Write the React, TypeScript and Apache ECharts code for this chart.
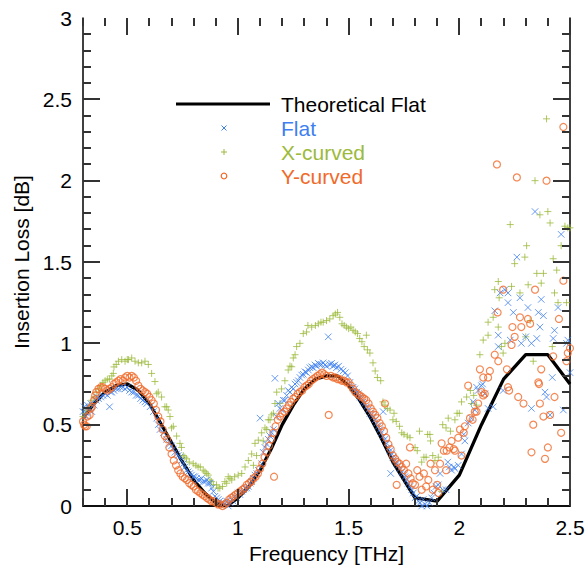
import React, { useEffect, useRef } from "react";
import * as echarts from "echarts";

const FONT = "'Liberation Sans', Arial, Helvetica, sans-serif";
const BLUE = "#3f7ff0";
const GREEN = "#9cba3c";
const ORANGE = "#f06a2a";
const TICK = "#333333";

const X_MIN = 0.3;
const X_MAX = 2.5;
const Y_MIN = 0;
const Y_MAX = 3;

const xMajorTicks = [0.5, 1, 1.5, 2, 2.5];
const xMinorTicks = [0.3, 0.4, 0.6, 0.7, 0.8, 0.9, 1.1, 1.2, 1.3, 1.4, 1.6, 1.7, 1.8, 1.9, 2.1, 2.2, 2.3, 2.4];
const yMajorTicks = [0.5, 1, 1.5, 2, 2.5];
const yMinorTicks = [
  0.1, 0.2, 0.3, 0.4, 0.6, 0.7, 0.8, 0.9, 1.1, 1.2, 1.3, 1.4, 1.6, 1.7, 1.8, 1.9,
  2.1, 2.2, 2.3, 2.4, 2.6, 2.7, 2.8, 2.9,
];

const theoreticalFlat = [
  [0.3, 0.54], [0.35, 0.63], [0.4, 0.7], [0.45, 0.74], [0.5, 0.75], [0.55, 0.71], [0.6, 0.63], [0.65, 0.51],
  [0.7, 0.39], [0.75, 0.27], [0.8, 0.16], [0.85, 0.08], [0.9, 0.02], [0.95, 0.0], [1.0, 0.05], [1.05, 0.12],
  [1.1, 0.22], [1.15, 0.35], [1.2, 0.5], [1.25, 0.62], [1.3, 0.72], [1.35, 0.78], [1.4, 0.8], [1.45, 0.8],
  [1.5, 0.74], [1.55, 0.65], [1.6, 0.54], [1.65, 0.41], [1.7, 0.27], [1.8, 0.05], [1.9, 0.03], [2.0, 0.19],
  [2.1, 0.5], [2.2, 0.78], [2.3, 0.93], [2.4, 0.93], [2.5, 0.75],
];

const flat = [
  [0.3, 0.58], [0.305, 0.61], [0.31, 0.55], [0.317, 0.57], [0.32, 0.62], [0.33, 0.6], [0.335, 0.63], [0.34, 0.58],
  [0.35, 0.62], [0.36, 0.65], [0.365, 0.67], [0.37, 0.66], [0.38, 0.67], [0.39, 0.68], [0.4, 0.69], [0.41, 0.68],
  [0.42, 0.61], [0.425, 0.7], [0.43, 0.7], [0.44, 0.71], [0.45, 0.72], [0.46, 0.72], [0.47, 0.73], [0.48, 0.73],
  [0.49, 0.72], [0.5, 0.73], [0.51, 0.71], [0.52, 0.7], [0.53, 0.7], [0.54, 0.68], [0.55, 0.68], [0.56, 0.66],
  [0.57, 0.65], [0.58, 0.64], [0.588, 0.63], [0.603, 0.61], [0.618, 0.58], [0.633, 0.54], [0.64, 0.5], [0.648, 0.47],
  [0.663, 0.45], [0.678, 0.41], [0.69, 0.38], [0.7, 0.37], [0.708, 0.35], [0.715, 0.33], [0.723, 0.32], [0.73, 0.31],
  [0.738, 0.3], [0.745, 0.28], [0.753, 0.26], [0.76, 0.24], [0.768, 0.22], [0.775, 0.21], [0.783, 0.2], [0.79, 0.19],
  [0.798, 0.18], [0.805, 0.18], [0.813, 0.17], [0.82, 0.16], [0.828, 0.16], [0.835, 0.17], [0.843, 0.15], [0.851, 0.15],
  [0.859, 0.16], [0.866, 0.14], [0.874, 0.14], [0.881, 0.11], [0.889, 0.09], [0.896, 0.06], [0.904, 0.05], [0.911, 0.04],
  [0.918, 0.03], [0.926, 0.02], [0.934, 0.02], [0.941, 0.01], [0.949, 0.03], [0.956, 0.0], [0.964, 0.02], [0.972, 0.04],
  [0.978, 0.03], [0.985, 0.06], [0.993, 0.05], [1.001, 0.08], [1.009, 0.07], [1.017, 0.09], [1.025, 0.1], [1.032, 0.11],
  [1.04, 0.11], [1.047, 0.12], [1.055, 0.14], [1.062, 0.15], [1.07, 0.17], [1.077, 0.19], [1.085, 0.2], [1.092, 0.22],
  [1.1, 0.54], [1.107, 0.26], [1.114, 0.33], [1.122, 0.36], [1.13, 0.38], [1.137, 0.41], [1.145, 0.43], [1.152, 0.45],
  [1.16, 0.47], [1.167, 0.785], [1.175, 0.55], [1.182, 0.63], [1.19, 0.6], [1.197, 0.59], [1.205, 0.65], [1.212, 0.65],
  [1.22, 0.68], [1.227, 0.71], [1.235, 0.7], [1.243, 0.73], [1.25, 0.72], [1.258, 0.75], [1.265, 0.76], [1.273, 0.77],
  [1.28, 0.79], [1.288, 0.805], [1.295, 0.81], [1.303, 0.825], [1.31, 0.82], [1.318, 0.836], [1.325, 0.85], [1.333, 0.856],
  [1.34, 0.85], [1.348, 0.867], [1.355, 0.86], [1.363, 0.877], [1.37, 0.87], [1.378, 0.87], [1.385, 0.88], [1.393, 0.867],
  [1.4, 0.86], [1.408, 1.04], [1.415, 0.87], [1.423, 0.877], [1.43, 0.86], [1.438, 0.867], [1.445, 0.85], [1.455, 0.86],
  [1.465, 0.84], [1.475, 0.83], [1.485, 0.82], [1.495, 0.8], [1.506, 0.76], [1.52, 0.73], [1.528, 0.72], [1.536, 0.7],
  [1.544, 0.69], [1.551, 0.67], [1.558, 0.66], [1.566, 0.64], [1.573, 0.63], [1.581, 0.61], [1.588, 0.59], [1.596, 0.57],
  [1.603, 0.56], [1.611, 0.55], [1.62, 0.53], [1.627, 0.51], [1.634, 0.49], [1.641, 0.47], [1.648, 0.45], [1.656, 0.43],
  [1.656, 0.58], [1.664, 0.41], [1.672, 0.385], [1.68, 0.36], [1.687, 0.34], [1.69, 0.2], [1.695, 0.32], [1.7, 0.3],
  [1.71, 0.28], [1.717, 0.26], [1.725, 0.25], [1.732, 0.23], [1.74, 0.21], [1.747, 0.2], [1.754, 0.18], [1.762, 0.16],
  [1.769, 0.14], [1.777, 0.12], [1.785, 0.1], [1.792, 0.08], [1.8, 0.05], [1.807, 0.06], [1.815, 0.03], [1.822, 0.02],
  [1.83, 0.0], [1.837, 0.04], [1.845, 0.01], [1.855, 0.0], [1.865, 0.02], [1.875, 0.05], [1.885, 0.08], [1.895, 0.12],
  [1.905, 0.13], [1.913, 0.2], [1.925, 0.1], [1.94, 0.1], [1.948, 0.27], [1.955, 0.24], [1.965, 0.22], [1.975, 0.24],
  [1.98, 0.23], [1.995, 0.25], [2.01, 0.32], [2.02, 0.44], [2.025, 0.4], [2.04, 0.51], [2.055, 0.54], [2.063, 0.64],
  [2.07, 0.59], [2.078, 0.73], [2.085, 0.71], [2.1, 0.74], [2.105, 0.75], [2.115, 0.69], [2.13, 0.6], [2.153, 0.61],
  [2.16, 1.2], [2.176, 1.05], [2.176, 0.98], [2.184, 1.31], [2.198, 0.71], [2.206, 1.33], [2.22, 1.31], [2.22, 1.25],
  [2.23, 1.02], [2.244, 1.19], [2.26, 1.53], [2.274, 1.28], [2.28, 1.0], [2.3, 1.04], [2.31, 1.22], [2.326, 1.0],
  [2.326, 0.6], [2.342, 1.81], [2.35, 1.03], [2.357, 1.19], [2.364, 1.1], [2.37, 1.27], [2.38, 1.17], [2.387, 0.7],
  [2.394, 0.67], [2.41, 0.56], [2.42, 0.79], [2.424, 1.03], [2.43, 1.08], [2.446, 1.22], [2.46, 1.67], [2.47, 0.59],
  [2.484, 1.0], [2.49, 1.02], [2.5, 0.82],
];

const xCurved = [
  [0.3, 0.55], [0.31, 0.57], [0.317, 0.59], [0.33, 0.62], [0.34, 0.65], [0.35, 0.67], [0.36, 0.7], [0.37, 0.72],
  [0.38, 0.74], [0.39, 0.76], [0.4, 0.77], [0.41, 0.78], [0.42, 0.78], [0.43, 0.8], [0.437, 0.815], [0.44, 0.855],
  [0.45, 0.87], [0.46, 0.89], [0.475, 0.9], [0.49, 0.89], [0.5, 0.9], [0.505, 0.9], [0.52, 0.91], [0.535, 0.89],
  [0.55, 0.88], [0.565, 0.88], [0.58, 0.89], [0.595, 0.87], [0.61, 0.815], [0.625, 0.765], [0.633, 0.69], [0.64, 0.7],
  [0.655, 0.67], [0.67, 0.61], [0.678, 0.61], [0.685, 0.59], [0.693, 0.55], [0.7, 0.48], [0.708, 0.49], [0.723, 0.43],
  [0.738, 0.385], [0.745, 0.36], [0.753, 0.31], [0.76, 0.3], [0.768, 0.29], [0.78, 0.27], [0.798, 0.26], [0.81, 0.25],
  [0.82, 0.24], [0.83, 0.24], [0.843, 0.22], [0.851, 0.21], [0.859, 0.2], [0.866, 0.19], [0.874, 0.16], [0.881, 0.15],
  [0.889, 0.13], [0.903, 0.13], [0.91, 0.11], [0.918, 0.11], [0.93, 0.12], [0.941, 0.15], [0.949, 0.14], [0.956, 0.18],
  [0.964, 0.17], [0.972, 0.16], [0.985, 0.18], [1.001, 0.19], [1.017, 0.2], [1.032, 0.24], [1.047, 0.28], [1.062, 0.32],
  [1.07, 0.25], [1.077, 0.385], [1.084, 0.31], [1.092, 0.405], [1.107, 0.45], [1.114, 0.4], [1.122, 0.48], [1.13, 0.47],
  [1.137, 0.53], [1.145, 0.53], [1.152, 0.56], [1.16, 0.57], [1.167, 0.63], [1.175, 0.7], [1.19, 0.63], [1.197, 0.72],
  [1.212, 0.77], [1.227, 0.836], [1.235, 0.86], [1.243, 0.856], [1.25, 0.91], [1.258, 0.93], [1.265, 0.98], [1.28, 1.0],
  [1.295, 1.06], [1.31, 1.07], [1.316, 1.11], [1.333, 1.1], [1.35, 1.11], [1.363, 1.12], [1.375, 1.13], [1.385, 1.13],
  [1.4, 1.14], [1.415, 1.15], [1.43, 1.17], [1.44, 1.18], [1.45, 1.19], [1.46, 1.16], [1.47, 1.12], [1.48, 1.11],
  [1.49, 1.1], [1.5, 1.09], [1.51, 1.1], [1.52, 1.08], [1.53, 1.07], [1.54, 1.06], [1.55, 1.03], [1.56, 1.01],
  [1.57, 0.98], [1.58, 1.05], [1.585, 0.96], [1.596, 0.94], [1.61, 0.88], [1.62, 0.83], [1.63, 0.79], [1.645, 0.77],
  [1.655, 0.64], [1.664, 0.62], [1.675, 0.6], [1.687, 0.59], [1.7, 0.53], [1.705, 0.57], [1.715, 0.52], [1.73, 0.49],
  [1.74, 0.45], [1.75, 0.44], [1.765, 0.43], [1.777, 0.42], [1.8, 0.36], [1.81, 0.34], [1.82, 0.46], [1.83, 0.27],
  [1.84, 0.3], [1.85, 0.3], [1.857, 0.44], [1.867, 0.44], [1.87, 0.4], [1.88, 0.31], [1.89, 0.28], [1.905, 0.3],
  [1.92, 0.09], [1.925, 0.5], [1.94, 0.48], [1.95, 0.54], [1.96, 0.46], [1.98, 0.53], [1.99, 0.57], [2.0, 0.57],
  [2.01, 0.64], [2.033, 0.67], [2.05, 0.71], [2.055, 0.63], [2.065, 0.68], [2.078, 0.62], [2.093, 0.93], [2.108, 1.02],
  [2.13, 1.13], [2.13, 1.05], [2.153, 1.16], [2.16, 1.33], [2.176, 1.38], [2.176, 1.1], [2.18, 1.28], [2.19, 0.98],
  [2.198, 0.94], [2.206, 1.0], [2.23, 1.73], [2.236, 1.35], [2.25, 1.49], [2.274, 1.31], [2.296, 1.53], [2.304, 1.6],
  [2.311, 1.36], [2.3, 1.04], [2.32, 1.14], [2.334, 0.89], [2.342, 2.0], [2.35, 1.43], [2.364, 1.79], [2.37, 1.37],
  [2.38, 1.43], [2.394, 2.38], [2.4, 1.81], [2.41, 1.74], [2.42, 0.98], [2.424, 1.52], [2.43, 1.31], [2.44, 1.45],
  [2.446, 1.25], [2.46, 1.6], [2.477, 1.72], [2.484, 1.25], [2.49, 1.71], [2.5, 1.71],
];

const yCurved = [
  [0.3, 0.52], [0.305, 0.5], [0.31, 0.49], [0.317, 0.49], [0.32, 0.55], [0.33, 0.56], [0.335, 0.6], [0.34, 0.61],
  [0.35, 0.65], [0.355, 0.68], [0.36, 0.7], [0.37, 0.72], [0.38, 0.73], [0.39, 0.73], [0.4, 0.72], [0.41, 0.71],
  [0.42, 0.72], [0.43, 0.73], [0.44, 0.75], [0.45, 0.76], [0.46, 0.77], [0.47, 0.78], [0.48, 0.77], [0.49, 0.79],
  [0.5, 0.8], [0.51, 0.79], [0.52, 0.8], [0.53, 0.79], [0.54, 0.77], [0.55, 0.74], [0.56, 0.72], [0.57, 0.71],
  [0.58, 0.7], [0.59, 0.69], [0.6, 0.67], [0.61, 0.65], [0.62, 0.63], [0.63, 0.59], [0.64, 0.55], [0.65, 0.52],
  [0.66, 0.47], [0.67, 0.43], [0.68, 0.41], [0.69, 0.36], [0.7, 0.32], [0.71, 0.28], [0.72, 0.25], [0.73, 0.22],
  [0.74, 0.2], [0.75, 0.18], [0.76, 0.17], [0.77, 0.16], [0.78, 0.14], [0.79, 0.13], [0.8, 0.12], [0.81, 0.1],
  [0.82, 0.09], [0.83, 0.08], [0.84, 0.07], [0.85, 0.06], [0.86, 0.05], [0.87, 0.04], [0.88, 0.03], [0.89, 0.03],
  [0.9, 0.02], [0.91, 0.01], [0.92, 0.01], [0.93, 0.0], [0.94, 0.01], [0.95, 0.02], [0.96, 0.04], [0.97, 0.05],
  [0.98, 0.06], [0.99, 0.07], [1.0, 0.08], [1.01, 0.09], [1.02, 0.1], [1.03, 0.11], [1.04, 0.13], [1.05, 0.14],
  [1.06, 0.15], [1.07, 0.17], [1.08, 0.18], [1.09, 0.2], [1.1, 0.23], [1.11, 0.26], [1.12, 0.3], [1.13, 0.33],
  [1.14, 0.37], [1.15, 0.41], [1.16, 0.45], [1.163, 0.18], [1.17, 0.49], [1.18, 0.53], [1.19, 0.55], [1.2, 0.57],
  [1.21, 0.58], [1.22, 0.6], [1.23, 0.62], [1.24, 0.64], [1.25, 0.66], [1.26, 0.67], [1.27, 0.69], [1.28, 0.7],
  [1.29, 0.71], [1.3, 0.73], [1.31, 0.74], [1.32, 0.75], [1.33, 0.77], [1.34, 0.78], [1.35, 0.79], [1.36, 0.8],
  [1.37, 0.81], [1.38, 0.82], [1.39, 0.81], [1.4, 0.8], [1.41, 0.56], [1.42, 0.8], [1.43, 0.79], [1.44, 0.79],
  [1.45, 0.78], [1.46, 0.78], [1.47, 0.77], [1.48, 0.77], [1.49, 0.76], [1.5, 0.76], [1.51, 0.74], [1.52, 0.72],
  [1.53, 0.7], [1.54, 0.69], [1.55, 0.68], [1.56, 0.67], [1.57, 0.66], [1.58, 0.65], [1.59, 0.63], [1.6, 0.6],
  [1.61, 0.58], [1.62, 0.56], [1.63, 0.54], [1.64, 0.51], [1.65, 0.49], [1.664, 0.63], [1.66, 0.46], [1.67, 0.42],
  [1.68, 0.38], [1.69, 0.35], [1.7, 0.31], [1.71, 0.29], [1.717, 0.13], [1.72, 0.27], [1.73, 0.26], [1.74, 0.24],
  [1.75, 0.22], [1.76, 0.26], [1.77, 0.2], [1.777, 0.36], [1.78, 0.17], [1.79, 0.14], [1.8, 0.13], [1.81, 0.22],
  [1.82, 0.18], [1.83, 0.1], [1.84, 0.2], [1.85, 0.12], [1.86, 0.16], [1.87, 0.26], [1.88, 0.1], [1.89, 0.22],
  [1.9, 0.13], [1.905, 0.08], [1.913, 0.26], [1.92, 0.385], [1.93, 0.34], [1.94, 0.22], [1.943, 0.34], [1.955, 0.36],
  [1.965, 0.4], [1.975, 0.35], [1.98, 0.34], [1.995, 0.42], [2.003, 0.47], [2.01, 0.31], [2.02, 0.45], [2.025, 0.49],
  [2.04, 0.74], [2.048, 0.54], [2.06, 0.53], [2.07, 0.58], [2.078, 0.58], [2.085, 0.63], [2.093, 0.84], [2.1, 0.7],
  [2.108, 0.68], [2.108, 0.79], [2.115, 0.69], [2.13, 0.79], [2.138, 0.83], [2.16, 0.93], [2.17, 2.1], [2.173, 1.19],
  [2.176, 0.89], [2.198, 1.33], [2.215, 0.84], [2.22, 0.73], [2.225, 0.71], [2.236, 0.99], [2.24, 1.1], [2.25, 1.04],
  [2.26, 2.02], [2.266, 0.67], [2.274, 1.16], [2.28, 1.1], [2.29, 0.63], [2.31, 1.15], [2.32, 1.12], [2.326, 0.33],
  [2.334, 0.5], [2.342, 1.33], [2.357, 0.76], [2.36, 0.75], [2.364, 0.63], [2.37, 0.84], [2.38, 0.55], [2.387, 0.29],
  [2.394, 2.0], [2.4, 0.36], [2.41, 0.56], [2.424, 0.92], [2.43, 0.67], [2.45, 1.15], [2.46, 0.45], [2.47, 2.33],
  [2.47, 1.385], [2.484, 0.89], [2.49, 0.94], [2.5, 0.97],
];

const legendItems = [
  { name: "Theoretical Flat", color: "#000" },
  { name: "Flat", color: BLUE },
  { name: "X-curved", color: GREEN },
  { name: "Y-curved", color: ORANGE },
];

const CROSS = "path://M0,0L10,10M10,0L0,10";
const PLUS = "path://M5,0L5,10M0,5L10,5";

const isHalf = (v: number) => Math.abs(v * 2 - Math.round(v * 2)) < 1e-6;
const fmt = (v: number) => String(Math.round(v * 10) / 10);

function legendGraphic(): any[] {
  const g: any[] = [];
  const tx = 281, iconX = 224, y0 = 104, dy = 24;
  g.push({ type: "line", shape: { x1: 176, y1: y0, x2: 270, y2: y0 }, style: { stroke: "#000", lineWidth: 3 } });
  const s = 2.5;
  g.push({ type: "line", shape: { x1: iconX - s, y1: y0 + dy - s, x2: iconX + s, y2: y0 + dy + s }, style: { stroke: BLUE, lineWidth: 1 } });
  g.push({ type: "line", shape: { x1: iconX - s, y1: y0 + dy + s, x2: iconX + s, y2: y0 + dy - s }, style: { stroke: BLUE, lineWidth: 1 } });
  g.push({ type: "line", shape: { x1: iconX - 3, y1: y0 + 2 * dy, x2: iconX + 3, y2: y0 + 2 * dy }, style: { stroke: GREEN, lineWidth: 1 } });
  g.push({ type: "line", shape: { x1: iconX, y1: y0 + 2 * dy - 3, x2: iconX, y2: y0 + 2 * dy + 3 }, style: { stroke: GREEN, lineWidth: 1 } });
  g.push({ type: "circle", shape: { cx: iconX, cy: y0 + 3 * dy, r: 2.8 }, style: { fill: "none", stroke: ORANGE, lineWidth: 1.2 } });
  legendItems.forEach((it, i) => {
    g.push({
      type: "text",
      x: tx,
      y: y0 + i * dy,
      style: { text: it.name, fill: it.color, font: `21px ${FONT}`, verticalAlign: "middle" },
    });
  });
  return g;
}

// Inside ticks on all four sides, positioned through the chart's own axes (convertToPixel).
function tickGraphic(chart: echarts.ECharts): any[] {
  const g: any[] = [];
  const toPx = (x: number, y: number) => chart.convertToPixel({ gridIndex: 0 }, [x, y]) as number[];
  const st = { stroke: TICK, lineWidth: 2 };
  const addX = (v: number, len: number) => {
    const b = toPx(v, Y_MIN);
    const t = toPx(v, Y_MAX);
    const x = Math.round(b[0]);
    g.push({ type: "line", z: 10, shape: { x1: x, y1: b[1], x2: x, y2: b[1] - len }, style: st });
    g.push({ type: "line", z: 10, shape: { x1: x, y1: t[1], x2: x, y2: t[1] + len }, style: st });
  };
  const addY = (v: number, len: number) => {
    const l = toPx(X_MIN, v);
    const r = toPx(X_MAX, v);
    const y = Math.round(l[1]);
    g.push({ type: "line", z: 10, shape: { x1: l[0], y1: y, x2: l[0] + len, y2: y }, style: st });
    g.push({ type: "line", z: 10, shape: { x1: r[0], y1: y, x2: r[0] - len, y2: y }, style: st });
  };
  xMajorTicks.forEach((v) => addX(v, 17));
  xMinorTicks.forEach((v) => addX(v, 8));
  yMajorTicks.forEach((v) => addY(v, 17));
  yMinorTicks.forEach((v) => addY(v, 8));
  return g;
}

function buildOption() {
  const textBase = { color: "#000", fontFamily: FONT, fontSize: 21 };
  const frameLine = { show: true, lineStyle: { color: "#000", width: 1.5 } };
  const baseX = () => ({ type: "value", min: X_MIN, max: X_MAX, splitLine: { show: false }, axisTick: { show: false } });
  const baseY = () => ({ type: "value", min: Y_MIN, max: Y_MAX, interval: 0.5, splitLine: { show: false }, axisTick: { show: false } });

  return {
    animation: false,
    backgroundColor: "#fff",
    grid: { left: 83, right: 16, top: 18, bottom: 61, outerBoundsMode: "none" },
    xAxis: [
      {
        ...baseX(),
        position: "bottom",
        interval: 0.1,
        axisLine: frameLine,
        axisLabel: {
          ...textBase,
          margin: 11,
          formatter: (v: number) => (isHalf(v) ? fmt(v) : ""),
        },
        name: "Frequency [THz]",
        nameLocation: "middle",
        nameGap: 34,
        nameTextStyle: { ...textBase },
      },
      {
        ...baseX(),
        position: "top",
        axisLine: frameLine,
        axisLabel: { show: false },
      },
    ],
    yAxis: [
      {
        ...baseY(),
        position: "left",
        axisLine: frameLine,
        axisLabel: { ...textBase, margin: 11, formatter: (v: number) => fmt(v) },
        name: "Insertion Loss [dB]",
        nameLocation: "middle",
        nameGap: 49,
        nameTextStyle: { ...textBase },
      },
      {
        ...baseY(),
        position: "right",
        axisLine: frameLine,
        axisLabel: { show: false },
      },
    ],
    series: [
      {
        name: "Theoretical Flat",
        type: "line",
        data: theoreticalFlat,
        showSymbol: false,
        symbol: "none",
        lineStyle: { color: "#000", width: 3.3 },
        itemStyle: { color: "#000" },
        z: 1,
      },
      {
        name: "X-curved",
        type: "scatter",
        data: xCurved,
        symbol: PLUS,
        symbolSize: 7,
        itemStyle: { color: "transparent", borderColor: GREEN, borderWidth: 1 },
        z: 2,
      },
      {
        name: "Flat",
        type: "scatter",
        data: flat,
        symbol: CROSS,
        symbolSize: 6.5,
        itemStyle: { color: "transparent", borderColor: BLUE, borderWidth: 1 },
        z: 3,
      },
      {
        name: "Y-curved",
        type: "scatter",
        data: yCurved,
        symbol: "circle",
        symbolSize: 7,
        itemStyle: { color: "transparent", borderColor: ORANGE, borderWidth: 1.2 },
        z: 4,
      },
    ],
    graphic: legendGraphic(),
  };
}

export default function App() {
  const ref = useRef<HTMLDivElement>(null);
  useEffect(() => {
    if (!ref.current) return;
    const chart = echarts.init(ref.current, null, { renderer: "svg" });
    chart.setOption(buildOption() as any);
    chart.setOption({ graphic: [...legendGraphic(), ...tickGraphic(chart)] } as any);
    return () => chart.dispose();
  }, []);
  return (
    <div
      ref={ref}
      style={{ position: "absolute", left: 0, top: 0, width: 586, height: 567, background: "#fff" }}
    />
  );
}
